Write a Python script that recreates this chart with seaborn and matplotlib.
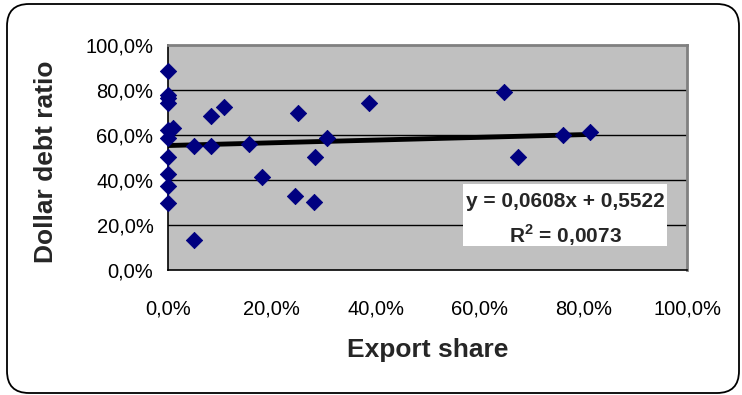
import matplotlib
matplotlib.use("Agg")
import matplotlib.pyplot as plt
import seaborn as sns
import pandas as pd
from matplotlib.patches import Rectangle, FancyBboxPatch

# ---- data (percent) ----
export_share = [0.0, 0.0, 0.0, 0.0, 0.0, 1.0, 0.0, 0.0, 0.0, 0.0, 0.0,
                5.0, 5.0, 8.3, 8.3, 10.7, 15.7, 18.2, 24.4, 25.1, 28.1,
                28.4, 30.6, 38.7, 64.7, 67.4, 76.1, 81.3]
dollar_debt = [88.6, 77.6, 76.3, 74.1, 62.2, 63.0, 58.5, 50.1, 42.7, 37.3, 29.6,
               13.0, 54.8, 54.8, 68.4, 72.6, 56.0, 41.0, 32.9, 69.9, 29.9,
               50.1, 58.4, 74.0, 79.2, 49.9, 59.9, 61.2]
trend_slope = 0.0608
trend_intercept = 0.5522
r_squared = "0,0073"
x_ticks = [0, 20, 40, 60, 80, 100]
x_tick_labels = ["0,0%", "20,0%", "40,0%", "60,0%", "80,0%", "100,0%"]
y_ticks = [0, 20, 40, 60, 80, 100]
y_tick_labels = ["0,0%", "20,0%", "40,0%", "60,0%", "80,0%", "100,0%"]
x_label = "Export share"
y_label = "Dollar debt ratio"

df = pd.DataFrame({"x": export_share, "y": dollar_debt})

sns.set_style("white")
plt.rcParams["font.family"] = ["Liberation Sans", "DejaVu Sans"]
plt.rcParams["mathtext.fontset"] = "custom"
plt.rcParams["mathtext.rm"] = "Liberation Sans:bold"
plt.rcParams["mathtext.bf"] = "Liberation Sans:bold"

fig = plt.figure(figsize=(7.42, 3.95), dpi=100)
fig.patch.set_facecolor("white")
ax = fig.add_axes([168 / 742, 1 - 269.5 / 395, 519 / 742, 224.5 / 395])
ax.set_facecolor("#C0C0C0")

ax.set_xlim(0, 100)
ax.set_ylim(0, 100)
ax.set_xticks(x_ticks)
ax.set_xticklabels(x_tick_labels)
ax.set_yticks(y_ticks)
ax.set_yticklabels(y_tick_labels)
ax.tick_params(axis="both", direction="out", length=4.5, width=1, color="black",
               labelsize=14.5, labelcolor="black")
ax.tick_params(axis="x", pad=17)
ax.tick_params(axis="y", pad=6)
for yv in y_ticks[1:-1]:
    ax.axhline(yv, color="black", lw=1, zorder=1)

for s in ["left", "bottom"]:
    ax.spines[s].set_color("black")
    ax.spines[s].set_linewidth(1.2)
for s in ["top", "right"]:
    ax.spines[s].set_color("#808080")
    ax.spines[s].set_linewidth(2)

# trend line
x_end = max(export_share)
xs = [0, x_end]
ys = [(trend_intercept + trend_slope * v / 100) * 100 for v in xs]
ax.plot(xs, ys, color="black", lw=3.5, zorder=4, solid_capstyle="butt")

sns.scatterplot(data=df, x="x", y="y", marker="D", color="#000080",
                edgecolor="#000080", s=68, ax=ax, zorder=5, clip_on=False)

# equation box
ax.add_patch(Rectangle((0.568, 0.105), 0.393, 0.276, transform=ax.transAxes,
                       facecolor="white", edgecolor="none", zorder=3))
ax.text(0.765, 0.302, "y = 0,0608x + 0,5522", transform=ax.transAxes,
        ha="center", va="center", fontsize=15, fontweight="bold", zorder=6)
ax.text(0.765, 0.154, r"R$^{2}$ = " + r_squared, transform=ax.transAxes,
        ha="center", va="center", fontsize=15, fontweight="bold", zorder=6)

ax.set_xlabel(x_label, fontsize=19, fontweight="bold")
ax.set_ylabel(y_label, fontsize=19, fontweight="bold")
ax.xaxis.set_label_coords(0.5, -0.305)
ax.yaxis.set_label_coords(-0.212, 0.479)

# outer rounded frame
frame = FancyBboxPatch((0.07, 0.02), 7.32, 3.89,
                       boxstyle="round,pad=0,rounding_size=0.22",
                       transform=fig.dpi_scale_trans, facecolor="none",
                       edgecolor="black", lw=1.3, zorder=0)
fig.patches.append(frame)

fig.savefig("out.png", dpi=100)
